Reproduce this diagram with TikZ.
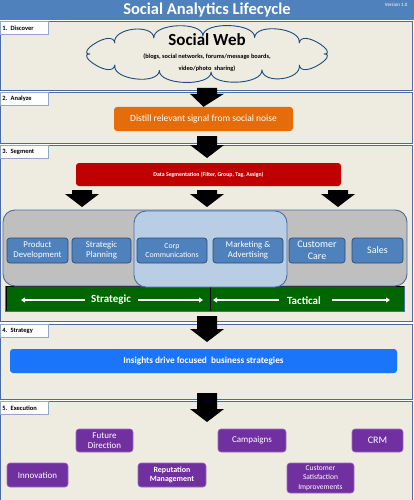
\documentclass[tikz,border=0pt]{standalone}
\usepackage{fontspec}
\setmainfont{Carlito}
\usetikzlibrary{arrows.meta,calc}
\definecolor{titleblue}{HTML}{4F81BD}
\definecolor{beige}{HTML}{EEECE1}
\definecolor{secline}{HTML}{4A6BA3}
\definecolor{cloudblue}{HTML}{1F497D}
\definecolor{orangebox}{HTML}{E46C0A}
\definecolor{redbox}{HTML}{C00000}
\definecolor{graybox}{HTML}{BFBFBF}
\definecolor{lightbluebox}{HTML}{B9CDE5}
\definecolor{boxblue}{HTML}{4F81BD}
\definecolor{boxblueline}{HTML}{2C4D75}
\definecolor{darkgreen}{HTML}{006600}
\definecolor{brightblue}{HTML}{1A75FA}
\definecolor{purplebox}{HTML}{7030A0}
\newcommand\mybigarrow[2]{%
  \fill[black] let \p1=(#1), \p2=(#2) in
    (\x1-10pt,\y1) -- (\x1+10pt,\y1) -- (\x1+10pt,\y2+13pt) -- (\x1+17pt,\y2+13pt)
    -- (\x2,\y2) -- (\x1-17pt,\y2+13pt) -- (\x1-10pt,\y2+13pt) -- cycle;}
\begin{document}
\begin{tikzpicture}[x=1pt,y=-1pt,
  secbox/.style={fill=beige,draw=secline,line width=0.9pt},
  tab/.style={anchor=north west,fill=white,draw=secline!60,line width=0.6pt,minimum width=48pt,minimum height=13pt,inner sep=1pt,font=\fontsize{6.5}{7}\selectfont\bfseries,text=black,align=left,text width=44pt},
  bigbox/.style={rounded corners=3pt,text=white,inner sep=1pt,align=center},
  bluebox/.style={rounded corners=3pt,fill=boxblue,draw=boxblueline,line width=0.7pt,text=white,align=center,inner sep=1pt,minimum height=25pt},
  purplebox/.style={rounded corners=3pt,fill=purplebox,draw=purplebox!70!white,line width=0.6pt,text=white,align=center,inner sep=1pt,font=\fontsize{9}{10.5}\selectfont},
  greenhalf/.style={fill=darkgreen,draw=black,line width=0.8pt,minimum height=25pt,inner sep=0pt},
  wline/.style={white,line width=2pt,-{Triangle[width=5pt,length=4pt]}},
  cloudline/.style={draw=cloudblue,fill=beige,line width=0.9pt,line join=round},
  ]
\useasboundingbox (0,0) rectangle (414,500);
\fill[white] (0,0) rectangle (414,500);
% title
\fill[titleblue] (0,0) rectangle (414,20);
\node[text=white,font=\fontsize{16.5}{18}\selectfont\bfseries] (title) at (207,10) {Social Analytics Lifecycle};
\node[text=white,font=\fontsize{5}{6}\selectfont,anchor=east] (ver) at (411,5) {Version 1.0};
% sections
\draw[secbox] (0,21) rectangle (412,90);
\draw[secbox] (0,92) rectangle (412,143);
\draw[secbox] (0,145) rectangle (412,321);
\draw[secbox] (0,324) rectangle (412,399);
\draw[secbox] (0,401) rectangle (412,500.5);
\node[tab] (t1) at (0,21) {1. Discover};
\node[tab] (t2) at (0,92) {2. Analyze};
\node[tab] (t3) at (0,145) {3. Segment};
\node[tab] (t4) at (0,324) {4. Strategy};
\node[tab] (t5) at (0,401) {5. Execution};
% cloud
\foreach \i/\a in {0/0,1/38,2/62,3/88,4/114,5/142,6/180,7/218,8/243,9/268,10/294,11/322}{
  \pgfmathsetmacro\px{207+117*cos(\a)}
  \pgfmathsetmacro\py{54+18*sin(\a)}
  \pgfmathsetmacro\nx{18*cos(\a)}
  \pgfmathsetmacro\ny{117*sin(\a)}
  \pgfmathsetmacro\nl{sqrt(\nx*\nx+\ny*\ny)}
  \coordinate (cp\i) at (\px,\py);
  \coordinate (cn\i) at ({\px+15*\nx/\nl},{\py+15*\ny/\nl});
}
\path[cloudline] (cp0)
  \foreach \i/\j in {0/1,1/2,2/3,3/4,4/5,5/6,6/7,7/8,8/9,9/10,10/11,11/0}{ .. controls (cn\i) and (cn\j) .. (cp\j) } -- cycle;
\node[align=center,inner sep=0pt] (webtxt) at (207,53) {{\fontsize{17}{18}\selectfont\bfseries Social Web}\\[1pt]{\fontsize{6.3}{7.5}\selectfont\bfseries (blogs, social networks, forums/message boards,}\\{\fontsize{6.3}{7.5}\selectfont\bfseries video/photo\ \ sharing)}};
% analyze
\node[bigbox,fill=orangebox,minimum width=179pt,minimum height=24pt,font=\fontsize{9.5}{11}\selectfont] (dist) at (203.5,119) {Distill relevant signal from social noise};
% segment
\node[bigbox,fill=redbox,minimum width=265pt,minimum height=23pt,font=\fontsize{5.8}{7}\selectfont\bfseries] (seg) at (208.5,174.5) {Data Segmentation (Filter, Group, Tag, Assign)};
\node[greenhalf,minimum width=204pt] (strat) at (108,298.5) {};
\node[greenhalf,minimum width=194pt] (tact) at (307,298.5) {};
\draw[draw=secline,line width=0.9pt] (strat.north west) -- (strat.south west) -- (tact.south east) -- (tact.north east);
\node[rounded corners=12pt,fill=graybox,draw=secline,line width=0.9pt,minimum width=404pt,minimum height=76pt] (grp) at (205,248) {};
\node[rounded corners=12pt,fill=lightbluebox,draw=secline,line width=0.9pt,minimum width=153pt,minimum height=76pt] (comm) at (210.5,249) {};
\node[bluebox,minimum width=61pt,font=\fontsize{8.8}{10}\selectfont] (prod) at (37.5,250.5) {Product\\Development};
\node[bluebox,minimum width=59pt,font=\fontsize{8.8}{10}\selectfont] (splan) at (101.5,250.5) {Strategic\\Planning};
\node[bluebox,minimum width=70pt,font=\fontsize{7.8}{9}\selectfont] (corp) at (172,250.5) {Corp\\Communications};
\node[bluebox,minimum width=70pt,font=\fontsize{8.8}{10}\selectfont] (mkt) at (248,250.5) {Marketing \&\\Advertising};
\node[bluebox,minimum width=56pt,font=\fontsize{10}{11.5}\selectfont] (care) at (317,250.5) {Customer\\Care};
\node[bluebox,minimum width=51pt,font=\fontsize{10}{11.5}\selectfont] (sales) at (377.5,250.5) {Sales};
\node[text=white,font=\fontsize{11}{12}\selectfont\bfseries,inner sep=0pt] (strattxt) at (111,300) {Strategic};
\node[text=white,font=\fontsize{11}{12}\selectfont\bfseries,inner sep=0pt] (tacttxt) at (304,301) {Tactical};
\coordinate (sa1) at (85,300); \coordinate (sa2) at (21,300);
\coordinate (sb1) at (138,300); \coordinate (sb2) at (203,300);
\coordinate (ta1) at (279,300); \coordinate (ta2) at (213,300);
\coordinate (tb1) at (332,300); \coordinate (tb2) at (390,300);
\draw[wline] (sa1) -- (sa2);
\draw[wline] (sb1) -- (sb2);
\draw[wline] (ta1) -- (ta2);
\draw[wline] (tb1) -- (tb2);
% strategy
\node[bigbox,fill=brightblue,minimum width=387pt,minimum height=24pt,font=\fontsize{9.3}{11}\selectfont\bfseries] (ins) at (203.5,361) {Insights drive focused\ \ business strategies};
% execution
\node[purplebox,minimum width=57pt,minimum height=23pt] (fut) at (104.5,440.5) {Future\\Direction};
\node[purplebox,minimum width=68pt,minimum height=23pt] (camp) at (252,440.5) {Campaigns};
\node[purplebox,minimum width=51pt,minimum height=23pt,font=\fontsize{10}{11}\selectfont] (crm) at (377.5,440.5) {CRM};
\node[purplebox,minimum width=61pt,minimum height=24pt] (innov) at (37.5,475) {Innovation};
\node[purplebox,minimum width=68pt,minimum height=24pt,font=\fontsize{8}{9.5}\selectfont\bfseries] (rep) at (172,475) {Reputation\\Management};
\node[purplebox,minimum width=67pt,minimum height=30pt,font=\fontsize{7.5}{9.5}\selectfont] (csat) at (320.5,478) {Customer\\Satisfaction\\Improvements};
% big arrows
\coordinate (a1s) at (207,88);
\coordinate (a2s) at (207,136); \coordinate (a2e) at (207,158);
\coordinate (a3s) at (82,190); \coordinate (a3e) at (82,207);
\coordinate (a4s) at (207,190); \coordinate (a4e) at (207,207);
\coordinate (a5s) at (338,190); \coordinate (a5e) at (338,207);
\coordinate (a6s) at (207,316); \coordinate (a6e) at (207,342);
\coordinate (a7s) at (207,393); \coordinate (a7e) at (207,422);
\mybigarrow{a1s}{dist.north}
\mybigarrow{a2s}{a2e}
\mybigarrow{a3s}{a3e}
\mybigarrow{a4s}{a4e}
\mybigarrow{a5s}{a5e}
\mybigarrow{a6s}{a6e}
\mybigarrow{a7s}{a7e}
\end{tikzpicture}
\end{document}
